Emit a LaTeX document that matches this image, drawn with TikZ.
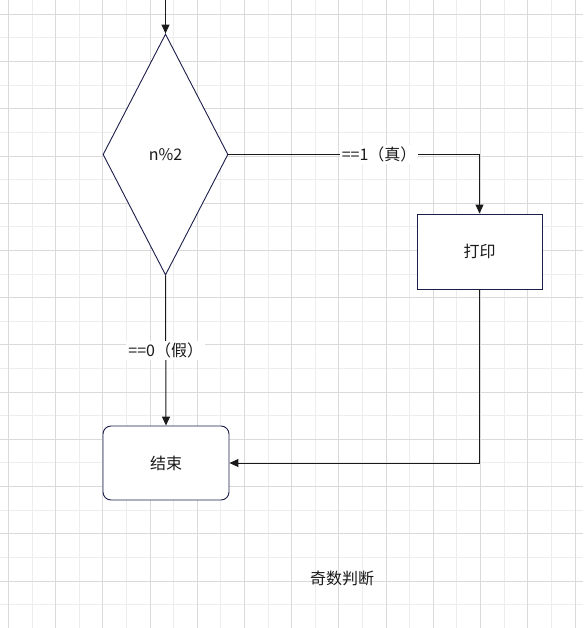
\documentclass[tikz,border=0pt]{standalone}
\usepackage{fontspec}
\setmainfont{Noto Sans CJK SC}
\usetikzlibrary{shapes.geometric,arrows.meta}
\definecolor{ink}{HTML}{1A1A1A}
\definecolor{navy}{HTML}{1B1E4A}
\definecolor{gridmajor}{HTML}{DADADA}
\definecolor{gridminor}{HTML}{EDEDED}
\tikzset{
  flowbox/.style={draw=navy,line width=0.9pt,fill=white,text=ink,font=\fontsize{16}{19}\selectfont},
  flowline/.style={ink,line width=1pt,-{Triangle[length=9pt,width=8pt]}},
  edgelabel/.style={fill=white,text=ink,inner sep=2pt,font=\fontsize{16}{19}\selectfont}
}

\begin{document}
\begin{tikzpicture}[x=1pt,y=-1pt]
\useasboundingbox (0,0) rectangle (583,628);
\fill[white] (0,0) rectangle (583,628);
% grid
\foreach \i in {0,...,11}{
  \draw[gridminor,line width=0.8pt] (31.9+47.22*\i,0) -- (31.9+47.22*\i,628);}
\foreach \i in {0,...,12}{
  \draw[gridminor,line width=0.8pt] (0,37.9+47.22*\i) -- (583,37.9+47.22*\i);}
\foreach \i in {0,...,12}{
  \draw[gridmajor,line width=0.8pt] (8.3+47.22*\i,0) -- (8.3+47.22*\i,628);}
\foreach \i in {0,...,12}{
  \draw[gridmajor,line width=0.8pt] (0,14.3+47.22*\i) -- (583,14.3+47.22*\i);}

% shapes
\node[flowbox,diamond,minimum width=125pt,minimum height=241pt,inner sep=0pt] (mod) at (165.5,154.5) {n\%2};
\node[flowbox,minimum width=125pt,minimum height=75pt] (print) at (479.5,251.5) {打印};
\node[flowbox,rounded corners=8pt,minimum width=126pt,minimum height=74pt] (finish) at (166,463) {结束};
\coordinate (start) at (165.5,0);

% connectors
\draw[flowline] (start) -- (mod.north);
\draw[flowline] (mod.east) -| node[edgelabel,pos=0.3]{==1（真）} (print.north);
\draw[flowline] (mod.south) -- node[edgelabel]{==0（假）} (finish.north);
\draw[flowline] (print.south) |- (finish.east);

\node[text=ink,font=\fontsize{16}{19}\selectfont] (title) at (342,578) {奇数判断};
\end{tikzpicture}
\end{document}
